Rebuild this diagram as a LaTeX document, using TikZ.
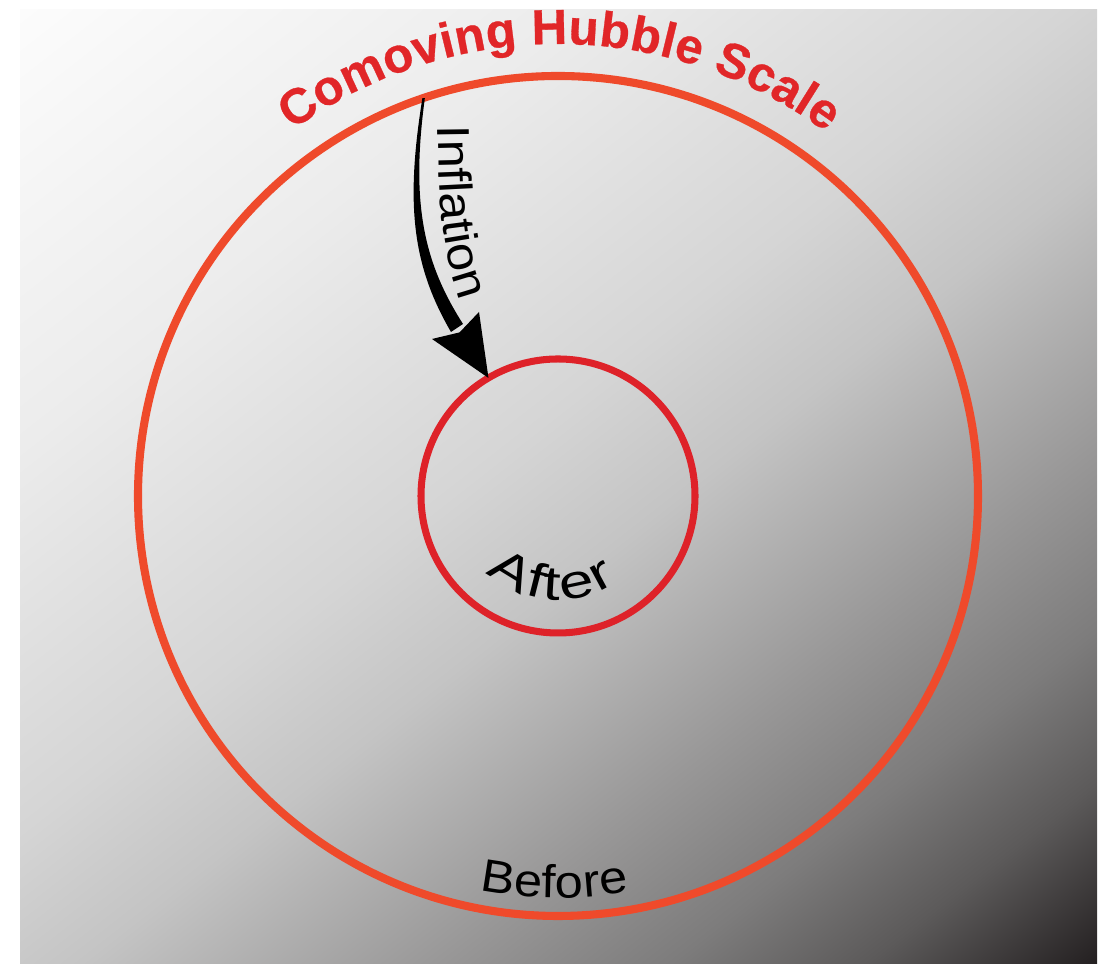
\documentclass[tikz,border=0pt]{standalone}
\usepackage{fontspec}
\setmainfont{Liberation Sans}
\newfontfamily\titleFont[FakeBold=0.6]{Liberation Sans Bold}
\newfontfamily\labelFont[FakeStretch=1.1]{Liberation Sans}
\newfontfamily\afterFont[FakeStretch=1.3]{Liberation Sans}
\usetikzlibrary{calc,decorations.text}

\definecolor{hubbleOrange}{RGB}{239,74,43}
\definecolor{hubbleRed}{RGB}{222,34,41}
\definecolor{titleRed}{RGB}{225,38,40}
\definecolor{shA}{RGB}{252,252,252}
\definecolor{shB}{RGB}{236,236,236}
\definecolor{shC}{RGB}{213,213,213}
\definecolor{shD}{RGB}{196,196,196}
\definecolor{shE}{RGB}{152,151,151}
\definecolor{shF}{RGB}{125,124,124}
\definecolor{shG}{RGB}{92,90,90}
\definecolor{shH}{RGB}{35,31,32}

\pgfdeclarehorizontalshading{skyFade}{100bp}{color(0bp)=(shA); color(14.9bp)=(shA);
  color(32bp)=(shB); color(47bp)=(shC); color(54bp)=(shD); color(65bp)=(shE);
  color(72bp)=(shF); color(78bp)=(shG); color(85.1bp)=(shH); color(100bp)=(shH)}

\begin{document}
\begin{tikzpicture}[x=0.1mm, y=0.1mm,
    ring outer/.style={draw=hubbleOrange, line width=2.3pt},
    ring inner/.style={draw=hubbleRed, line width=2pt},
    curved label/.style={decorate, decoration={text along path, text align=fit to path, text={#1}}}]

    % --- Configuration ---
    \def\Rout{420} % Hubble scale before
    \def\Rin{137}  % Hubble scale after

    \useasboundingbox (0,0) rectangle (1113,964);

    % --- Background ---
    \shade[shading=skyFade, shading angle=-52] (20,0) rectangle (1097,954);

    % --- Hubble circles ---
    \coordinate (ctr) at (558,468);
    \draw[ring outer] (ctr) circle[radius=\Rout];
    \draw[ring inner] (ctr) circle[radius=\Rin];

    % --- Inflation arrow (tapered) ---
    \coordinate (inflStart) at ($(ctr)+(108.7:\Rout)$);
    \coordinate (inflTip) at ($(ctr)+(120.5:\Rin)$);
    \fill ($(inflStart)+(1.5,0)$) .. controls (410.5,760) and (424,701) .. (463,640)
        -- (451,632) .. controls (412,699) and (405.5,760) .. ($(inflStart)+(-1,0)$) -- cycle;
    \fill (inflTip) -- (479,652) -- (459.6,631.6) -- (432,625) -- cycle;

    % --- Labels along the curves ---
    \path[curved label={|\fontsize{14}{16}\selectfont\titleFont\color{titleRed}|Comoving Hubble Scale}]
        ($(ctr)+(126:452)$) arc[start angle=126, end angle=53.6, radius=452];
    \path[curved label={|\fontsize{13.1}{16}\selectfont\labelFont|Inflation}]
        (438,838) .. controls (439,760) and (441,720) .. (460,664);
    \path[curved label={|\fontsize{13.7}{16}\selectfont\afterFont|After}]
        ($(ctr)+(227:104)$) arc[start angle=227, end angle=304, radius=104];
    \path[curved label={|\fontsize{13.1}{16}\selectfont\labelFont|Before}]
        ($(ctr)+(258.8:402)$) arc[start angle=258.8, end angle=280.2, radius=402];

\end{tikzpicture}
\end{document}
